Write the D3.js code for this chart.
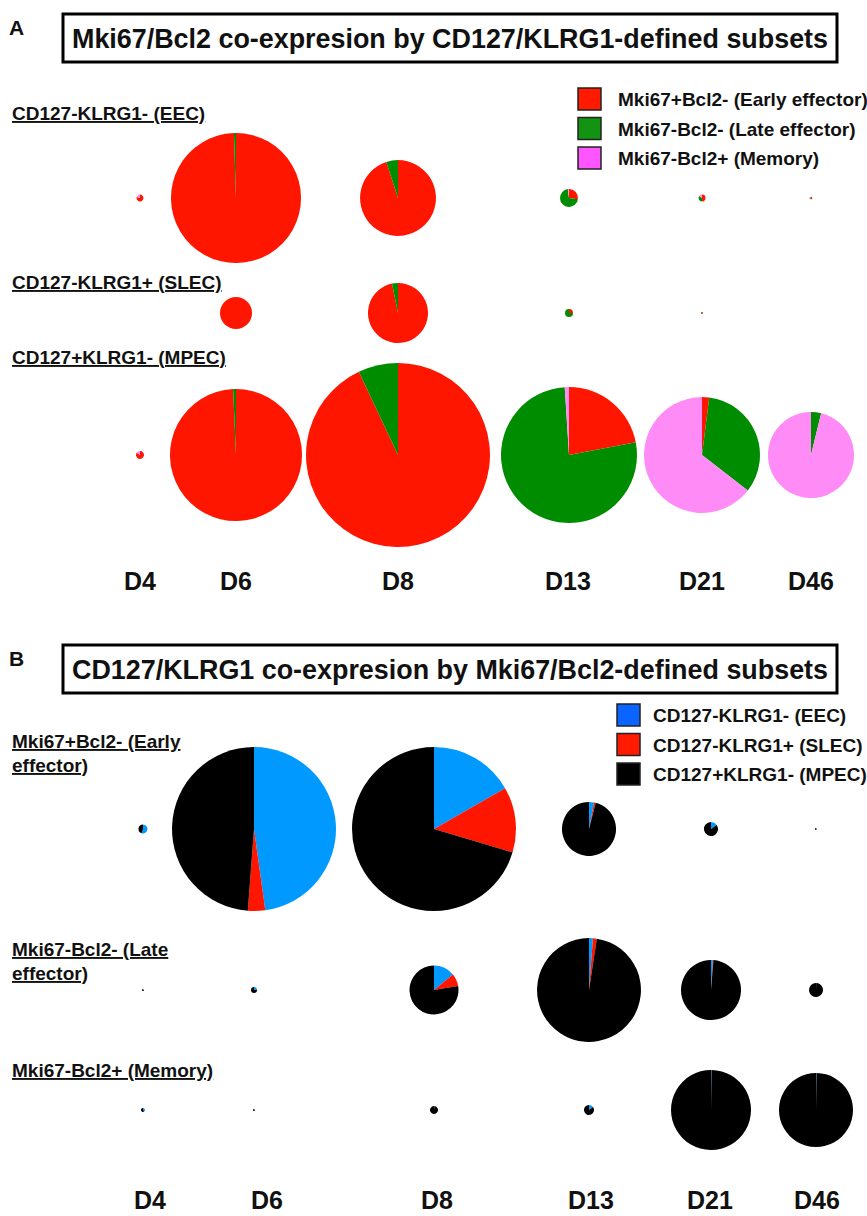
<!DOCTYPE html>
<html>
<head>
<meta charset="utf-8">
<script src="https://cdn.jsdelivr.net/npm/d3@7"></script>
<style>
  body { margin: 0; background: #fff; }
  text { font-family: "Liberation Sans", Arial, Helvetica, sans-serif; font-weight: bold; fill: #111; }
</style>
</head>
<body>
<svg id="chart"></svg>
<script>
const days = ["D4", "D6", "D8", "D13", "D21", "D46"];

// panel A: rows are CD127/KLRG1 subsets, slices are Mki67/Bcl2 subsets
const titleA = "Mki67/Bcl2 co-expresion by CD127/KLRG1-defined subsets";
const rowsA = ["CD127-KLRG1- (EEC)", "CD127-KLRG1+ (SLEC)", "CD127+KLRG1- (MPEC)"];
const slicesA = ["Mki67+Bcl2- (Early effector)", "Mki67-Bcl2- (Late effector)", "Mki67-Bcl2+ (Memory)"];
// relative population size (pie area) per day
const sizeA = [
  [0.12, 42.3, 14.4, 0.81, 0.12, 0.015],
  [0, 2.56, 9.0, 0.16, 0.01, 0],
  [0.16, 43.6, 84.6, 46.2, 33.6, 18.5]
];
// % early / late / memory
const splitA = [
  [[80, 0, 20], [99.5, 0.5, 0], [95, 5, 0], [27, 71, 2], [50, 35, 15], [60, 30, 10]],
  [[0, 0, 0], [100, 0, 0], [96.8, 3.2, 0], [25, 75, 0], [50, 50, 0], [0, 0, 0]],
  [[85, 0, 15], [99.3, 0.7, 0], [93, 7, 0], [22, 77, 1], [2, 33.5, 64.5], [0, 3.8, 96.2]]
];

// panel B: rows are Mki67/Bcl2 subsets, slices are CD127/KLRG1 subsets
const titleB = "CD127/KLRG1 co-expresion by Mki67/Bcl2-defined subsets";
const rowsB = [["Mki67+Bcl2- (Early", "effector)"], ["Mki67-Bcl2- (Late", "effector)"], ["Mki67-Bcl2+ (Memory)"]];
const slicesB = ["CD127-KLRG1- (EEC)", "CD127-KLRG1+ (SLEC)", "CD127+KLRG1- (MPEC)"];
const sizeB = [
  [0.2, 67.2, 67.2, 7.3, 0.49, 0.01],
  [0.01, 0.09, 6.0, 27.0, 9.0, 0.49],
  [0.04, 0.01, 0.16, 0.25, 16.0, 13.7]
];
// % EEC / SLEC / MPEC
const splitB = [
  [[55, 0, 45], [47.8, 3.4, 48.8], [16.7, 12.9, 70.4], [3, 1, 96], [15, 0, 85], [30, 10, 60]],
  [[20, 0, 80], [25, 0, 75], [14, 8.4, 77.6], [1.2, 1.2, 97.6], [1, 0.3, 98.7], [0.5, 0, 99.5]],
  [[40, 0, 60], [20, 0, 80], [2, 0, 98], [15, 0, 85], [0.2, 0, 99.8], [0.2, 0, 99.8]]
];

const width = 867;
const height = 1216;

const svg = d3.select("#chart")
  .attr("width", width)
  .attr("height", height);

svg.append("defs").append("filter")
  .attr("id", "soft")
  .append("feGaussianBlur")
  .attr("stdDeviation", 0.6);

const radius = d3.scaleSqrt().domain([0, 100]).range([0, 100]);
const pie = d3.pie().sort(null);
const arc = d3.arc().innerRadius(0);

function drawPanel(p) {
  const g = svg.append("g");

  g.append("text")
    .attr("x", 9).attr("y", p.top + 21)
    .attr("font-size", 21)
    .text(p.letter);

  g.append("rect")
    .attr("x", 63).attr("y", p.top)
    .attr("width", 774).attr("height", 48)
    .attr("fill", "none")
    .attr("stroke", "#000")
    .attr("stroke-width", 3);

  g.append("text")
    .attr("x", 72).attr("y", p.top + 34)
    .attr("font-size", 27)
    .attr("textLength", 756)
    .attr("lengthAdjust", "spacingAndGlyphs")
    .text(p.title);

  // legend
  const leg = g.selectAll(".leg")
    .data(p.slices)
    .join("g")
    .attr("transform", (d, i) => `translate(${p.legX},${p.legY + i * p.legStep})`);
  leg.append("rect")
    .attr("width", 23).attr("height", 22)
    .attr("fill", (d, i) => p.legColors[i])
    .attr("stroke", "#222")
    .attr("stroke-width", 1.5);
  leg.append("text")
    .attr("x", p.legTextDx).attr("y", 18)
    .attr("font-size", 19)
    .text(d => d);

  // row labels
  p.rowLabels.forEach((lines, i) => {
    lines.forEach((line, j) => {
      g.append("text")
        .attr("x", 12)
        .attr("y", p.labelY[i] + j * 24)
        .attr("font-size", 19)
        .attr("text-decoration", "underline")
        .text(line);
    });
  });

  const x = d3.scaleOrdinal(days, p.colX);
  const y = d3.scaleOrdinal(d3.range(3), p.rowY);
  const color = d3.scaleOrdinal(d3.range(3), p.pieColors);

  p.sizes.forEach((row, ri) => {
    row.forEach((size, ci) => {
      if (size <= 0) return;
      const r = radius(size);
      const cell = g.append("g")
        .attr("transform", `translate(${x(days[ci])},${y(ri)})`)
        .attr("filter", "url(#soft)");
      cell.selectAll("path")
        .data(pie(p.split[ri][ci]))
        .join("path")
        .attr("d", d => arc.outerRadius(r)(d))
        .attr("fill", (d, i) => color(i));
    });
  });

  const dx = d3.scaleOrdinal(days, p.dayX);
  g.selectAll(".day")
    .data(days)
    .join("text")
    .attr("x", d => dx(d))
    .attr("y", p.dayY)
    .attr("font-size", 25)
    .attr("text-anchor", "middle")
    .text(d => d);
}

drawPanel({
  letter: "A", title: titleA, top: 14,
  slices: slicesA,
  legX: 578, legY: 88, legStep: 29.5, legTextDx: 40,
  legColors: ["#ff1a00", "#129412", "#ff55ff"],
  pieColors: ["#ff1500", "#008c00", "#ff8cf6"],
  rowLabels: rowsA.map(d => [d]),
  labelY: [120, 289, 364],
  rowY: [198, 313, 455],
  colX: [140, 236, 398, 569, 702, 811],
  sizes: sizeA, split: splitA,
  dayX: [140, 236, 398, 568, 702, 811], dayY: 590
});

drawPanel({
  letter: "B", title: titleB, top: 645,
  slices: slicesB,
  legX: 617, legY: 704, legStep: 29.5, legTextDx: 36,
  legColors: ["#0a64ff", "#ff1a00", "#000"],
  pieColors: ["#0099ff", "#ff1500", "#000"],
  rowLabels: rowsB,
  labelY: [748, 956, 1077],
  rowY: [829, 990, 1110],
  colX: [143, 254, 434, 589, 711, 816],
  sizes: sizeB, split: splitB,
  dayX: [150, 267, 437, 591, 710, 817], dayY: 1209
});
</script>
</body>
</html>
